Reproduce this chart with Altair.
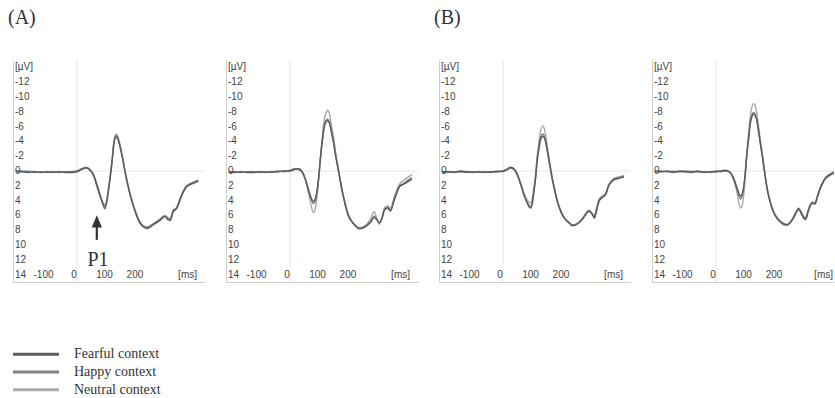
import altair as alt
import pandas as pd

CATS = ["Fearful context", "Happy context", "Neutral context"]
COLORS = ["#585c5e", "#7c8081", "#a6aaaa"]

PANEL_TITLES = ["(A)", None, "(B)", None]
Y_TICKS = [-12, -10, -8, -6, -4, -2, 0, 2, 4, 6, 8, 10, 12, 14]
X_TICKS = [-100, 0, 100, 200]
Y_UNIT = "[µV]"
X_UNIT = "[ms]"

# Panel 1 (A, left)
T1 = [-200, -180, -160, -140, -120, -100, -80, -60, -40, -20, 0, 15, 30, 42, 55, 65, 75, 85, 92, 100,
      108, 115, 121, 128, 134, 141, 150, 157, 166, 174, 190, 206, 220, 230, 250, 272, 288, 299, 306, 315,
      327, 343, 359, 381, 398]
F1 = [0.0, 0.1, 0.2, 0.1, 0.2, 0.1, 0.2, 0.1, 0.2, 0.2, 0.1, -0.2, -0.45, -0.2, 0.6, 1.9, 3.2, 4.5, 5.1, 3.6,
      1.2, -1.2, -3.6, -4.6, -4.3, -3.3, -1.6, 0.0, 1.8, 3.2, 5.4, 7.0, 7.6, 7.7, 7.2, 6.6, 6.1, 6.5, 6.6, 5.5,
      5.0, 3.3, 2.1, 1.6, 1.3]
H1 = [0.1, 0.0, 0.1, 0.2, 0.1, 0.2, 0.1, 0.2, 0.1, 0.1, 0.0, -0.3, -0.4, -0.1, 0.7, 2.0, 3.3, 4.4, 4.8, 3.4,
      1.0, -1.4, -3.8, -4.8, -4.5, -3.4, -1.7, -0.1, 1.7, 3.1, 5.3, 6.9, 7.6, 7.8, 7.3, 6.7, 6.2, 6.6, 6.7, 5.6,
      5.1, 3.4, 2.2, 1.7, 1.4]
N1 = [0.1, 0.1, 0.0, 0.1, 0.2, 0.1, 0.1, 0.2, 0.1, 0.2, 0.0, -0.3, -0.5, -0.2, 0.5, 1.7, 3.0, 4.2, 4.6, 3.3,
      0.9, -1.5, -4.0, -5.0, -4.7, -3.6, -1.8, -0.2, 1.6, 3.0, 5.2, 6.8, 7.4, 7.5, 7.1, 6.5, 6.0, 6.3, 6.4, 5.3,
      4.9, 3.2, 2.0, 1.5, 1.2]

# Panel 2 (A, right)
T2 = [-200, -180, -160, -140, -120, -100, -80, -60, -40, -20, 0, 15, 28, 40, 50, 62, 70, 77, 84, 90,
      96, 101, 107, 112, 118, 123, 129, 135, 142, 150, 158, 166, 174, 182, 190, 200, 212, 227, 240, 252,
      265, 276, 285, 293, 302, 310, 320, 330, 340, 350, 360, 372, 385, 400]
F2 = [0.1, 0.2, 0.1, 0.2, 0.2, 0.1, 0.2, 0.1, 0.1, 0.0, 0.0, -0.2, -0.3, 0.1, 1.0, 2.7, 3.7, 4.1, 3.6, 2.3,
      0.0, -2.2, -4.3, -5.9, -6.6, -6.8, -6.5, -5.4, -4.0, -2.0, -0.2, 1.6, 3.3, 4.7, 5.9, 6.7, 7.3, 7.8, 7.7, 7.4,
      6.9, 6.3, 6.6, 7.0, 6.4, 5.3, 5.0, 5.4, 4.2, 3.0, 2.1, 1.8, 1.5, 1.1]
H2 = [0.2, 0.1, 0.2, 0.1, 0.1, 0.2, 0.1, 0.2, 0.0, 0.1, -0.1, -0.3, -0.2, 0.2, 1.1, 2.9, 3.9, 4.4, 3.9, 2.5,
      0.1, -2.3, -4.5, -6.1, -6.8, -7.0, -6.7, -5.6, -4.1, -2.1, -0.3, 1.5, 3.2, 4.6, 5.8, 6.6, 7.3, 7.7, 7.6, 7.3,
      6.8, 6.1, 6.5, 7.0, 6.3, 5.2, 4.9, 5.3, 4.1, 2.9, 2.0, 1.7, 1.3, 0.9]
N2 = [0.1, 0.1, 0.1, 0.2, 0.1, 0.1, 0.1, 0.1, 0.1, 0.0, 0.0, -0.2, -0.3, 0.2, 1.2, 3.2, 4.8, 5.6, 4.9, 3.0,
      0.3, -2.4, -5.0, -6.9, -7.8, -8.2, -7.8, -6.4, -4.8, -2.5, -0.5, 1.4, 3.1, 4.5, 5.7, 6.6, 7.2, 7.7, 7.6, 7.2,
      6.4, 5.5, 6.4, 7.2, 6.2, 5.0, 4.7, 5.0, 3.8, 2.6, 1.7, 1.3, 0.9, 0.5]

# Panel 3 (B, left)
T3 = [-200, -180, -160, -140, -120, -100, -80, -60, -40, -20, 0, 15, 25, 38, 52, 60, 69, 78, 85, 91,
      96, 101, 107, 112, 118, 123, 131, 138, 145, 153, 161, 170, 178, 186, 194, 202, 211, 219, 227, 238,
      247, 255, 263, 271, 282, 293, 300, 307, 315, 325, 337, 347, 356, 364, 380, 397]
F3 = [0.1, 0.1, 0.2, 0.0, 0.1, 0.2, 0.1, 0.2, 0.1, 0.1, 0.0, -0.3, -0.5, -0.2, 1.0, 2.0, 3.2, 4.2, 4.8, 5.0,
      4.4, 3.0, 1.0, -1.3, -3.0, -4.2, -4.7, -4.2, -2.8, -0.9, 1.0, 2.7, 4.1, 5.1, 5.9, 6.4, 6.8, 7.1, 7.4, 7.3,
      7.1, 6.8, 6.4, 5.9, 5.4, 5.9, 6.4, 5.4, 4.1, 3.6, 3.2, 2.0, 1.5, 1.2, 1.0, 0.8]
H3 = [0.2, 0.1, 0.1, 0.1, 0.2, 0.1, 0.2, 0.1, 0.2, 0.0, 0.1, -0.2, -0.4, -0.1, 1.1, 2.1, 3.3, 4.1, 4.6, 4.8,
      4.2, 2.8, 0.8, -1.5, -3.3, -4.5, -5.0, -4.4, -2.9, -1.0, 0.9, 2.6, 4.0, 5.0, 5.8, 6.4, 6.8, 7.1, 7.3, 7.2,
      7.0, 6.7, 6.3, 5.8, 5.3, 5.8, 6.2, 5.2, 4.0, 3.5, 3.1, 1.9, 1.4, 1.1, 0.9, 0.7]
N3 = [0.1, 0.2, 0.1, 0.1, 0.1, 0.1, 0.1, 0.1, 0.1, 0.1, 0.0, -0.2, -0.4, -0.2, 0.9, 1.9, 3.0, 3.8, 4.2, 4.3,
      3.7, 2.3, 0.3, -2.0, -4.0, -5.4, -6.1, -5.3, -3.5, -1.3, 0.7, 2.5, 3.9, 5.0, 5.8, 6.3, 6.7, 7.0, 7.3, 7.2,
      7.0, 6.7, 6.3, 5.8, 5.5, 5.7, 6.0, 5.0, 3.8, 3.4, 3.0, 1.8, 1.3, 1.0, 0.8, 0.6]

# Panel 4 (B, right)
T4 = [-200, -180, -160, -140, -120, -100, -80, -60, -40, -20, 0, 15, 30, 45, 58, 69, 75, 80, 85, 90,
      96, 101, 107, 112, 118, 123, 128, 134, 142, 151, 159, 167, 175, 183, 191, 200, 208, 216, 225, 233,
      243, 252, 260, 271, 282, 293, 304, 315, 325, 333, 342, 350, 358, 366, 374, 382, 391, 400]
F4 = [0.0, 0.1, 0.0, 0.2, 0.0, 0.1, 0.2, 0.0, 0.2, 0.1, 0.1, 0.0, -0.1, 0.1, 1.0, 2.3, 3.0, 3.4, 3.2, 2.3,
      0.2, -2.2, -4.4, -6.3, -7.4, -7.7, -7.5, -6.8, -4.6, -2.2, 0.1, 2.3, 3.8, 5.0, 5.8, 6.4, 6.8, 7.0, 7.2, 7.3,
      7.0, 6.5, 5.9, 5.1, 5.9, 6.5, 5.2, 4.3, 4.4, 3.4, 2.3, 1.6, 1.0, 0.7, 0.5, 0.3, 0.2, 0.1]
H4 = [0.1, 0.0, 0.1, 0.1, 0.1, 0.0, 0.1, 0.1, 0.1, 0.2, 0.0, 0.1, 0.0, 0.2, 1.1, 2.5, 3.3, 3.8, 3.5, 2.5,
      0.3, -2.3, -4.6, -6.5, -7.6, -7.9, -7.7, -6.9, -4.7, -2.3, 0.0, 2.2, 3.7, 4.9, 5.7, 6.4, 6.8, 7.1, 7.3, 7.3,
      7.0, 6.4, 5.8, 5.2, 6.0, 6.6, 5.3, 4.4, 4.5, 3.5, 2.4, 1.7, 1.1, 0.8, 0.6, 0.4, 0.3, 0.2]
N4 = [0.1, 0.1, 0.1, 0.0, 0.1, 0.1, 0.0, 0.1, 0.1, 0.1, 0.1, 0.0, 0.0, 0.2, 1.3, 2.9, 4.4, 5.0, 4.8, 3.6,
      0.8, -2.4, -5.2, -7.3, -8.7, -9.1, -8.9, -7.8, -5.3, -2.6, -0.2, 2.1, 3.6, 4.8, 5.6, 6.2, 6.6, 6.9, 7.1, 7.2,
      6.9, 6.3, 5.7, 5.0, 5.7, 6.3, 5.0, 4.2, 4.2, 3.2, 2.2, 1.5, 0.9, 0.6, 0.4, 0.2, 0.1, 0.0]

# P1 annotation (panel 1)
P1_T = [65]
P1_HEAD = [6.8]
P1_SHAFT = [7.4, 9.3]
P1_LABEL_T = [69]
P1_LABEL_V = [12.0]

color_scale = alt.Scale(domain=CATS, range=COLORS)
XAX = alt.Axis(labels=False, ticks=False, grid=False, title=None, domainColor="#cfcfcf", domainWidth=1)
YAX = alt.Axis(labels=False, ticks=False, grid=False, title=None, domainColor="#cfcfcf", domainWidth=1)
LABEL_FONT = "Liberation Sans"
LABEL_COLOR = "#444444"


def panel_df(t, f, h, n):
    rows = []
    for cat, vals in (("Neutral context", n), ("Happy context", h), ("Fearful context", f)):
        for ti, v in zip(t, vals):
            rows.append({"t": ti, "v": v, "cond": cat})
    return pd.DataFrame(rows)


def make_panel(df, xmax, width, title, annotate=False):
    xs = alt.Scale(domain=[-210, xmax], nice=False, zero=False)
    ys = alt.Scale(domain=[-15, 15], reverse=True, nice=False, zero=False)

    def X(field):
        return alt.X(field, scale=xs, axis=XAX)

    def Y(field):
        return alt.Y(field, scale=ys, axis=YAX)

    zero_v = alt.Chart(pd.DataFrame({"z": [0]})).mark_rule(color="#e4e4e4", strokeWidth=1).encode(x=X("z:Q"))
    zero_h = alt.Chart(pd.DataFrame({"z": [0]})).mark_rule(color="#e4e4e4", strokeWidth=1).encode(y=Y("z:Q"))

    lines = alt.Chart(df).mark_line(strokeWidth=1.4, interpolate="monotone", clip=True).encode(
        x=X("t:Q"), y=Y("v:Q"),
        color=alt.Color("cond:N", scale=color_scale, legend=None),
        detail="cond:N",
    )

    ylab = alt.Chart(pd.DataFrame({"y": Y_TICKS, "txt": [str(v) for v in Y_TICKS]})).mark_text(
        align="left", baseline="middle", font=LABEL_FONT, fontSize=10, color=LABEL_COLOR
    ).encode(x=alt.value(2), y=Y("y:Q"), text="txt:N")

    yunit = alt.Chart(pd.DataFrame({"y": [-14], "txt": [Y_UNIT]})).mark_text(
        align="left", baseline="middle", font=LABEL_FONT, fontSize=10, color=LABEL_COLOR
    ).encode(x=alt.value(2), y=Y("y:Q"), text="txt:N")

    xlab = alt.Chart(pd.DataFrame({"x": X_TICKS, "row": [14] * len(X_TICKS),
                                   "txt": [str(v) for v in X_TICKS]})).mark_text(
        align="center", baseline="middle", font=LABEL_FONT, fontSize=10, color=LABEL_COLOR, dx=-3
    ).encode(x=X("x:Q"), y=Y("row:Q"), text="txt:N")

    xunit = alt.Chart(pd.DataFrame({"row": [14], "txt": [X_UNIT]})).mark_text(
        align="right", baseline="middle", font=LABEL_FONT, fontSize=10, color=LABEL_COLOR
    ).encode(x=alt.value(width - 8 if width > 185 else width - 1), y=Y("row:Q"), text="txt:N")

    layers = [zero_v, zero_h, lines, ylab, yunit, xlab, xunit]

    if annotate:
        shaft = alt.Chart(pd.DataFrame({"t": P1_T, "a": [P1_SHAFT[0]], "b": [P1_SHAFT[1]]})).mark_rule(
            color="#333333", strokeWidth=2.2
        ).encode(x=X("t:Q"), y=Y("a:Q"), y2="b:Q")
        head = alt.Chart(pd.DataFrame({"t": P1_T, "v": P1_HEAD})).mark_point(
            shape="M0,-1.2L-1,1.2L1,1.2Z", size=105, filled=True, color="#333333", opacity=1
        ).encode(x=X("t:Q"), y=Y("v:Q"))
        lab = alt.Chart(pd.DataFrame({"t": P1_LABEL_T, "v": P1_LABEL_V, "txt": ["P1"]})).mark_text(
            font="Liberation Serif", fontSize=20, color="#333333", baseline="middle", align="center"
        ).encode(x=X("t:Q"), y=Y("v:Q"), text="txt:N")
        layers += [shaft, head, lab]

    ch = alt.layer(*layers).properties(width=width, height=222)
    if title:
        ch = ch.properties(title=alt.TitleParams(
            text=title, anchor="start", frame="group", font="Liberation Serif", fontSize=20,
            fontWeight="normal", color="#333333", dx=-5, offset=16, baseline="alphabetic"))
    return ch


p1 = make_panel(panel_df(T1, F1, H1, N1), 420, 192, PANEL_TITLES[0], annotate=True)
p2 = make_panel(panel_df(T2, F2, H2, N2), 420, 192, PANEL_TITLES[1])
p3 = make_panel(panel_df(T3, F3, H3, N3), 420, 192, PANEL_TITLES[2])
p4 = make_panel(panel_df(T4, F4, H4, N4), 387, 182, PANEL_TITLES[3])

top = alt.hconcat(p1, p2, p3, p4, spacing=21, bounds="flush")

leg_df = pd.DataFrame({"cond": CATS})
leg_y = alt.Y("cond:N", scale=alt.Scale(domain=CATS, type="point", padding=0.4), axis=None)
leg_lines = alt.Chart(leg_df).mark_rule(strokeWidth=3).encode(
    x=alt.value(0), x2=alt.value(46), y=leg_y,
    color=alt.Color("cond:N", scale=color_scale, legend=None))
leg_text = alt.Chart(leg_df).mark_text(
    align="left", baseline="middle", font="Liberation Serif", fontSize=14, color="#333333"
).encode(x=alt.value(61), y=leg_y, text="cond:N")
legend = alt.layer(leg_lines, leg_text).properties(width=170, height=50)

chart = alt.vconcat(top, legend, spacing=64).properties(
    padding={"left": 8, "top": 7, "right": 0, "bottom": 0}, background="white"
).configure_view(stroke=None)

chart.save("out.html", embed_options={"renderer": "svg", "actions": False})
